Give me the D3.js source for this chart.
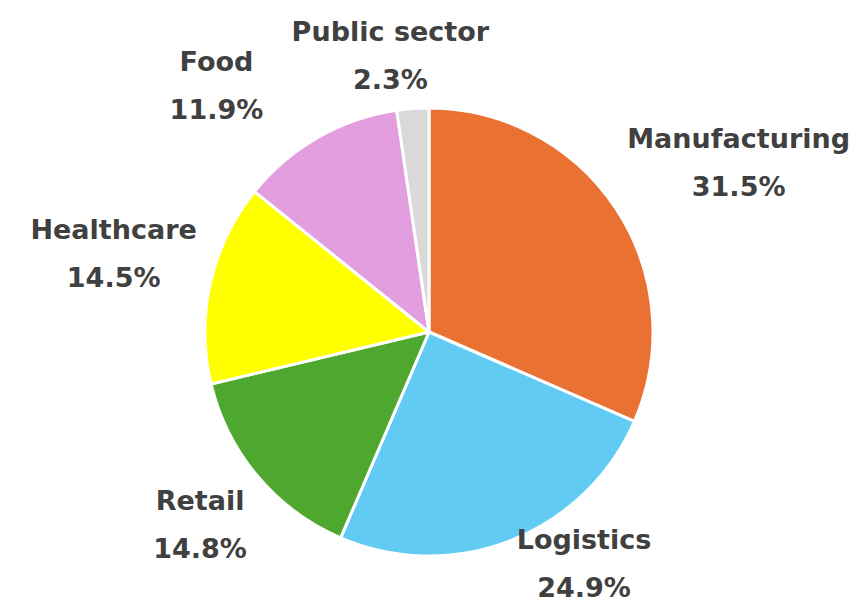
<!DOCTYPE html>
<html>
<head>
<meta charset="utf-8">
<script src="https://cdn.jsdelivr.net/npm/d3@7"></script>
<style>
  body { margin: 0; background: #fff; }
  svg { display: block; }
</style>
</head>
<body>
<svg id="pie-svg" width="854" height="605"></svg>
<script>
const categories = ['Manufacturing', 'Logistics', 'Retail', 'Healthcare', 'Food', 'Public sector']
const shares = [31.5, 24.9, 14.8, 14.5, 11.9, 2.3]
const colors = ['#E97132', '#61CBF3', '#4EA72E', '#FFFF00', '#E29EDE', '#D9D9D9']

const LABEL_GAP = 14
const LINE_GAP = 48
const SPREAD = 3

displayPie()

function displayPie() {
    const svg = d3.select('#pie-svg')
    const width = +svg.attr('width'), height = +svg.attr('height')
    const cx = 429, cy = 332, radius = 224

    const data = categories.map((name, i) => ({ name, value: shares[i], color: colors[i] }))

    // slices go clockwise from 12 o'clock, in data order
    const pie = d3.pie().value(d => d.value).sort(null)
    const arc = d3.arc().innerRadius(0).outerRadius(radius)
    const arcs = pie(data)

    const g = svg.append('g').attr('transform', `translate(${cx},${cy})`)

    g.selectAll('path')
        .data(arcs)
        .enter()
        .append('path')
        .attr('d', arc)
        .style('fill', d => d.data.color)
        .style('stroke', '#fff')
        .style('stroke-width', 3)
        .style('stroke-linejoin', 'round')

    // labels: two lines each
    const labels = svg.selectAll('g.label')
        .data(arcs)
        .enter()
        .append('g')
        .attr('class', 'label')

    labels.append('text')
        .attr('y', -LINE_GAP / 2)
        .text(d => d.data.name)
    labels.append('text')
        .attr('y', LINE_GAP / 2)
        .text(d => d.data.value.toFixed(1) + '%')

    labels.selectAll('text')
        .attr('text-anchor', 'middle')
        .attr('dominant-baseline', 'central')
        .style('font-family', '"DejaVu Sans", Verdana, sans-serif')
        .style('font-weight', 'bold')
        .style('font-size', '27px')
        .style('fill', '#404040')

    // outside-end placement: box corner hugs a point just past the rim
    const clamp = v => Math.max(-1, Math.min(1, v))
    const boxes = []
    labels.each(function (d) {
        const b = this.getBBox()
        const a = (d.startAngle + d.endAngle) / 2
        const s = Math.sin(a), c = Math.cos(a)
        const px = cx + s * (radius + LABEL_GAP)
        const py = cy - c * (radius + LABEL_GAP)
        let x = px + clamp(s * SPREAD) * b.width / 2
        let y = py - clamp(c * SPREAD) * b.height / 2
        // keep inside the picture
        x = Math.max(b.width / 2 + 4, Math.min(width - b.width / 2 - 4, x))
        y = Math.max(b.height / 2, Math.min(height - b.height / 2 - 2, y))
        boxes.push({ x, y, w: b.width, h: b.height })
    })

    // push overlapping neighbours apart sideways
    for (let i = 1; i < boxes.length; i++) {
        const p = boxes[(i + 1) % boxes.length], q = boxes[i]
        const ox = (p.w + q.w) / 2 - Math.abs(p.x - q.x)
        const oy = (p.h + q.h) / 2 - Math.abs(p.y - q.y)
        if (ox > -28 && oy > 0) {
            const dir = q.x < p.x ? -1 : 1
            q.x += dir * (ox + 28)
        }
    }

    labels.attr('transform', (d, i) => `translate(${boxes[i].x},${boxes[i].y})`)
}
</script>
</body>
</html>
